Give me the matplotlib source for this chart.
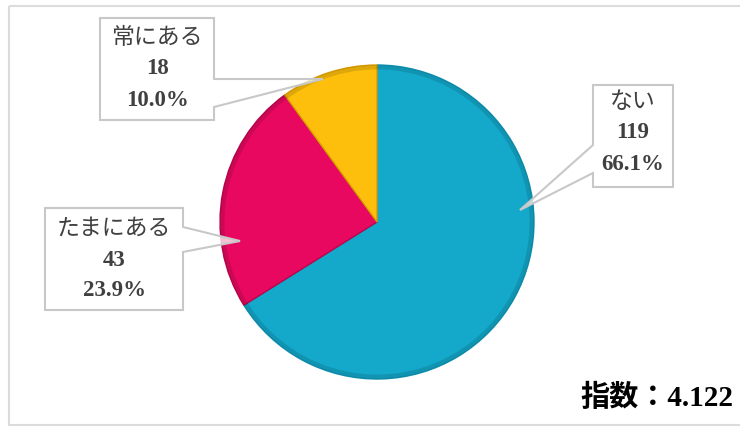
import matplotlib.pyplot as plt
from matplotlib.patches import Polygon, Rectangle, Circle

plt.rcParams['font.family'] = ['Liberation Serif', 'Noto Sans CJK JP']

categories = ['ない', 'たまにある', '常にある']
counts = [119, 43, 18]
percents = [66.1, 23.9, 10.0]
index_value = 4.122
colors = ['#14A9CB', '#E9085F', '#FDBF0C']

W, H = 740, 432
fig = plt.figure(figsize=(W / 100, H / 100), dpi=100)

# pie axes: centre (377, 222) px, radius 157 px
cx, cy, r = 377, 222, 157
ax = fig.add_axes([(cx - r) / W, (H - cy - r) / H, 2 * r / W, 2 * r / H])
wedges, _ = ax.pie(counts, colors=colors, startangle=90, counterclock=False,
                   wedgeprops=dict(linewidth=1.0))
for w, c in zip(wedges, ['#0e8fae', '#b8064c', '#d99d00']):
    w.set_edgecolor(c)
# soft darker rim for a bit of the bevel look
ax.add_patch(Circle((0, 0), 0.985, fill=False, ec='#000000', lw=3, alpha=0.12))
ax.set_xlim(-1, 1)
ax.set_ylim(-1, 1)
ax.set_aspect('equal')

# overlay in pixel coordinates for frame, callouts and text
ov = fig.add_axes([0, 0, 1, 1], zorder=5)
ov.set_xlim(0, W)
ov.set_ylim(H, 0)
ov.axis('off')
ov.patch.set_alpha(0)

ov.add_patch(Rectangle((9, 6), 740, 419, fill=False, ec='#dcdcdc', lw=1.5))

# callout outlines (box + pointer), one per category
callouts = [
    [(593, 85), (673, 85), (673, 187), (593, 187), (593, 173), (520, 210), (593, 145)],
    [(45, 208), (183, 208), (183, 227), (240, 241), (183, 252), (183, 310), (45, 310)],
    [(100, 18), (214, 18), (214, 79), (323, 79), (214, 107), (214, 120), (100, 120)],
]
text_pos = [(633, 133), (114, 260), (157, 69)]
line_gap = 31

for pts, (tx, ty), name, n, p in zip(callouts, text_pos, categories, counts, percents):
    ov.add_patch(Polygon(pts, closed=True, fc=(1, 1, 1, 0.75), ec='#c8c8c8', lw=1.5))
    ov.text(tx, ty - line_gap, name, ha='center', va='center',
            fontsize=16.5, color='#404040')
    ov.text(tx, ty, f'{n}', ha='center', va='center',
            fontsize=16.5, color='#404040', fontweight='bold')
    ov.text(tx, ty + line_gap, f'{p:.1f}%', ha='center', va='center',
            fontsize=16.5, color='#404040', fontweight='bold')

ov.text(733, 398, f'指数：{index_value:.3f}', ha='right', va='center',
        fontsize=21, color='black', fontweight='bold')

fig.savefig('out.png', dpi=100, facecolor='white')
